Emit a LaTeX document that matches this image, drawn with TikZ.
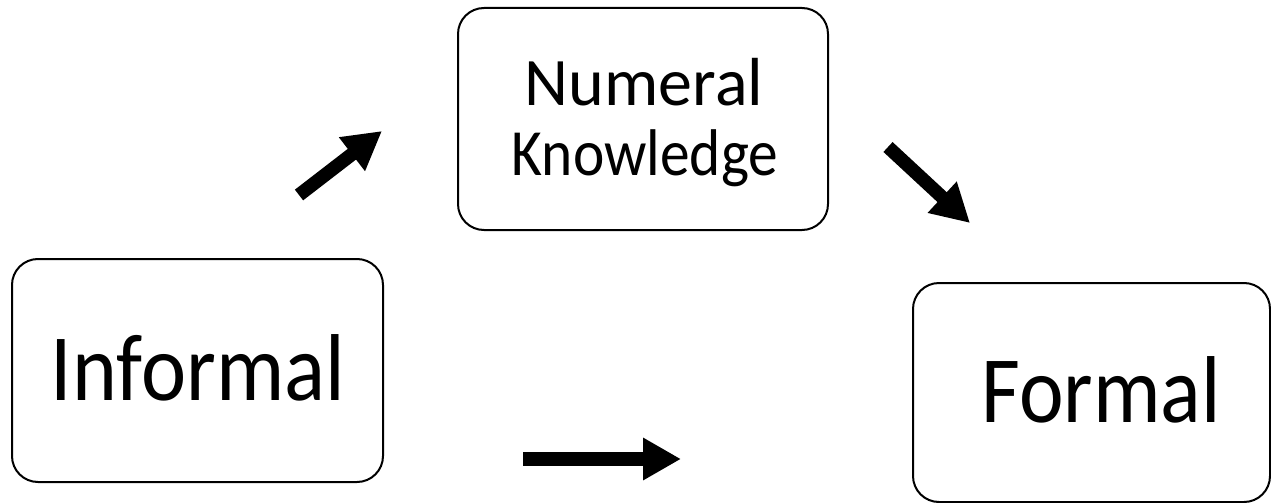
\documentclass[tikz,border=0pt]{standalone}
\usepackage{fontspec}
\setmainfont{Carlito}
\usetikzlibrary{arrows.meta}
\tikzset{
  stagebox/.style={draw=black, line width=2pt, rounded corners=26pt, fill=white},
  word/.style={anchor=base, inner sep=0pt},
  flow/.style={line width=13.5pt, -{Triangle[width=40pt,length=38pt]}}
}
% narrow-set label text
\newcommand{\narrowtext}[3]{{\fontsize{#1}{#1}\selectfont\scalebox{#2}[1]{#3}}}
\begin{document}
\begin{tikzpicture}[x=1pt,y=-1pt]
  \useasboundingbox (0,0) rectangle (1271,503);
  % stage boxes
  \draw[stagebox] (12,259) rectangle (383,482);
  \draw[stagebox] (458,8) rectangle (828,230);
  \draw[stagebox] (913,283) rectangle (1270,502);
  % labels
  \node[word] (informal) at (198,400) {\narrowtext{95}{0.9}{Informal}};
  \node[word] (numeral) at (644,105) {\narrowtext{68}{1.0}{Numeral}};
  \node[word] (knowledge) at (645,175) {\narrowtext{66}{0.9}{Knowledge}};
  \node[word] (formal) at (1101,422) {\narrowtext{95}{0.89}{Formal}};
  % free-standing arrows
  \coordinate (a1s) at (299,195);
  \coordinate (a1e) at (382,131);
  \coordinate (a2s) at (888,147);
  \coordinate (a2e) at (970,223);
  \coordinate (a3s) at (523,459);
  \coordinate (a3e) at (681,459);
  \draw[flow] (a1s) -- (a1e);
  \draw[flow] (a2s) -- (a2e);
  \draw[flow] (a3s) -- (a3e);
\end{tikzpicture}
\end{document}
